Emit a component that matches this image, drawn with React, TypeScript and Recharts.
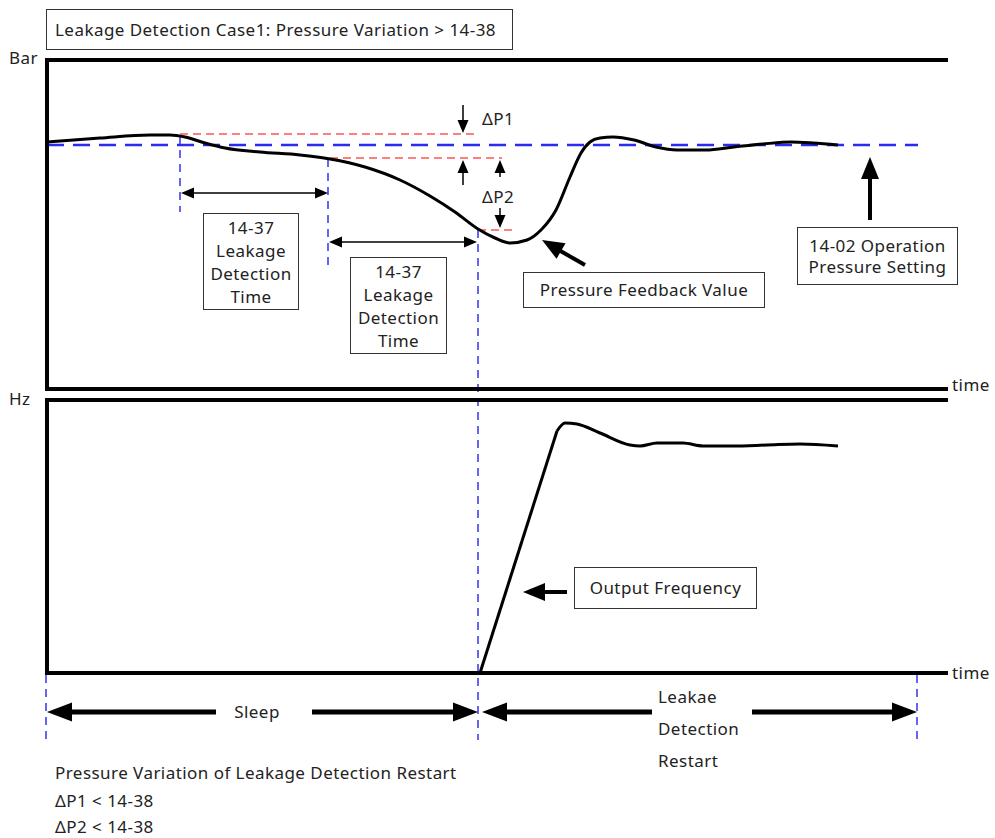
import React from "react";
import { ComposedChart, XAxis, YAxis, Line, Scatter, ReferenceLine } from "recharts";

const W = 995;
const H = 838;

type Pt = { x: number; y: number };
type Seg = { x1: number; y1: number; x2: number; y2: number };
type Head = { x: number; y: number; angle: number };

// pressure feedback (top panel)
const pressureCurve: Pt[] = [
  { x: 47, y: 142 }, { x: 100, y: 138 }, { x: 150, y: 135 }, { x: 170, y: 135 },
  { x: 185, y: 137 }, { x: 205, y: 143 }, { x: 225, y: 148 }, { x: 260, y: 152 },
  { x: 300, y: 155 }, { x: 330, y: 159 }, { x: 365, y: 167 }, { x: 400, y: 180 },
  { x: 430, y: 196 }, { x: 455, y: 212 }, { x: 478, y: 229 }, { x: 495, y: 238 },
  { x: 510, y: 243 }, { x: 527, y: 240 }, { x: 541, y: 230 }, { x: 556, y: 210 },
  { x: 570, y: 177 }, { x: 581, y: 153 }, { x: 590, y: 142 }, { x: 600, y: 138 },
  { x: 613, y: 137 }, { x: 634, y: 140 }, { x: 656, y: 147 }, { x: 677, y: 150 },
  { x: 706, y: 150 }, { x: 734, y: 147 }, { x: 763, y: 144 }, { x: 791, y: 142 },
  { x: 813, y: 143 }, { x: 838, y: 145 },
];

// output frequency (bottom panel): straight ramp, then settling
const frequencyRamp: Pt[] = [{ x: 480, y: 673 }, { x: 557, y: 431 }];
const frequencyCurve: Pt[] = [
  { x: 557, y: 431 }, { x: 565, y: 423 }, { x: 577, y: 424 }, { x: 600, y: 433 },
  { x: 630, y: 445 }, { x: 640, y: 446 }, { x: 657, y: 443 }, { x: 683, y: 443 },
  { x: 703, y: 446 }, { x: 733, y: 446 }, { x: 767, y: 445 }, { x: 800, y: 444 },
  { x: 838, y: 446 },
];

const axisFrame: Seg[] = [
  { x1: 47, y1: 60, x2: 946, y2: 60 },
  { x1: 47, y1: 60, x2: 47, y2: 389 },
  { x1: 47, y1: 389, x2: 946, y2: 389 },
  { x1: 47, y1: 400, x2: 946, y2: 400 },
  { x1: 47, y1: 400, x2: 47, y2: 673 },
  { x1: 47, y1: 673, x2: 946, y2: 673 },
];

const setpointLine: Seg[] = [{ x1: 47, y1: 145, x2: 918, y2: 145 }];

const markerLines: Seg[] = [
  { x1: 180, y1: 136, x2: 180, y2: 212 },
  { x1: 328, y1: 159, x2: 328, y2: 265 },
  { x1: 478, y1: 230, x2: 478, y2: 740 },
  { x1: 46, y1: 675, x2: 46, y2: 740 },
  { x1: 917, y1: 675, x2: 917, y2: 740 },
];

const deltaLines: Seg[] = [
  { x1: 180, y1: 134, x2: 477, y2: 134 },
  { x1: 330, y1: 158, x2: 502, y2: 158 },
  { x1: 478, y1: 230, x2: 513, y2: 230 },
];

const thinShafts: Seg[] = [
  { x1: 463, y1: 105, x2: 463, y2: 124 },
  { x1: 463, y1: 185, x2: 463, y2: 169 },
  { x1: 500, y1: 177, x2: 500, y2: 169 },
  { x1: 500, y1: 208, x2: 500, y2: 219 },
  { x1: 188, y1: 193, x2: 322, y2: 193 },
  { x1: 336, y1: 242, x2: 471, y2: 242 },
];

const thinHeads: Head[] = [
  { x: 463, y: 133, angle: 90 },
  { x: 463, y: 160, angle: -90 },
  { x: 500, y: 160, angle: -90 },
  { x: 500, y: 228, angle: 90 },
  { x: 181, y: 193, angle: 180 },
  { x: 328, y: 193, angle: 0 },
  { x: 329, y: 242, angle: 180 },
  { x: 477, y: 242, angle: 0 },
];

const boldShafts: Seg[] = [
  { x1: 585, y1: 265, x2: 557, y2: 249 },
  { x1: 870, y1: 220, x2: 870, y2: 176 },
  { x1: 567, y1: 592, x2: 544, y2: 592 },
];

const boldHeads: Head[] = [
  { x: 542, y: 240, angle: 210 },
  { x: 870, y: 157, angle: -90 },
  { x: 523, y: 592, angle: 180 },
];

const rangeShafts: Seg[] = [
  { x1: 70, y1: 712, x2: 216, y2: 712 },
  { x1: 312, y1: 712, x2: 457, y2: 712 },
  { x1: 505, y1: 712, x2: 652, y2: 712 },
  { x1: 752, y1: 712, x2: 895, y2: 712 },
];

const rangeHeads: Head[] = [
  { x: 47, y: 712, angle: 180 },
  { x: 478, y: 712, angle: 0 },
  { x: 482, y: 712, angle: 180 },
  { x: 917, y: 712, angle: 0 },
];

function headShape(len: number, half: number) {
  return (props: any) => {
    const { cx, cy, payload } = props;
    const a = (payload.angle * Math.PI) / 180;
    const c = Math.cos(a);
    const s = Math.sin(a);
    const bx = cx - len * c;
    const by = cy - len * s;
    const pts = `${cx},${cy} ${bx - half * s},${by + half * c} ${bx + half * s},${by - half * c}`;
    return <polygon points={pts} fill="#000" />;
  };
}

function segLines(list: Seg[], key: string, style: any) {
  return list.map((s, i) => (
    <ReferenceLine
      key={`${key}${i}`}
      segment={[{ x: s.x1, y: s.y1 }, { x: s.x2, y: s.y2 }]}
      ifOverflow="visible"
      {...style}
    />
  ));
}

const Box = ({ l, t, r, b, lh = 22, children }: any) => (
  <div
    style={{
      position: "absolute", left: l, top: t, width: r - l, height: b - t,
      boxSizing: "border-box", border: "1px solid #333", background: "#fff",
      display: "flex", flexDirection: "column", alignItems: "center",
      justifyContent: "center", lineHeight: `${lh}px`, textAlign: "center",
      whiteSpace: "nowrap",
    }}
  >
    {children}
  </div>
);

const Tag = ({ x, y, center, children }: any) => (
  <div
    style={{
      position: "absolute", left: x, top: y - 12, lineHeight: "24px",
      whiteSpace: "nowrap", transform: center ? "translateX(-50%)" : undefined,
    }}
  >
    {children}
  </div>
);

export default function App() {
  return (
    <div
      style={{
        position: "absolute", left: 0, top: 0, width: W, height: H,
        background: "#fff", fontFamily: '"Noto Sans", sans-serif', fontSize: 17,
        letterSpacing: "0.45px", color: "#222",
      }}
    >
      <ComposedChart width={W} height={H} margin={{ top: 0, right: 0, bottom: 0, left: 0 }}>
        <XAxis type="number" dataKey="x" domain={[0, W]} allowDataOverflow hide />
        <YAxis type="number" dataKey="y" domain={[0, H]} reversed allowDataOverflow hide />

        {segLines(setpointLine, "sp", { stroke: "#2b2bf0", strokeWidth: 2.5, strokeDasharray: "17 9" })}
        {segLines(deltaLines, "dl", { stroke: "#ff5555", strokeWidth: 1.5, strokeDasharray: "8 5" })}
        {segLines(markerLines, "mk", { stroke: "#3333ee", strokeWidth: 1.5, strokeDasharray: "8 6" })}
        {segLines(axisFrame, "ax", { stroke: "#000", strokeWidth: 4, strokeLinecap: "square" })}
        {segLines(thinShafts, "ts", { stroke: "#000", strokeWidth: 1.5 })}
        {segLines(boldShafts, "bs", { stroke: "#000", strokeWidth: 4 })}
        {segLines(rangeShafts, "rs", { stroke: "#000", strokeWidth: 5 })}

        <Line
          data={pressureCurve} dataKey="y" type="monotone" stroke="#000" strokeWidth={3}
          dot={false} activeDot={false} isAnimationActive={false}
        />
        <Line
          data={frequencyRamp} dataKey="y" type="linear" stroke="#000" strokeWidth={3}
          dot={false} activeDot={false} isAnimationActive={false}
        />
        <Line
          data={frequencyCurve} dataKey="y" type="monotone" stroke="#000" strokeWidth={3}
          dot={false} activeDot={false} isAnimationActive={false}
        />

        <Scatter data={thinHeads} shape={headShape(13, 5.5)} isAnimationActive={false} />
        <Scatter data={boldHeads} shape={headShape(22, 9)} isAnimationActive={false} />
        <Scatter data={rangeHeads} shape={headShape(25, 9.5)} isAnimationActive={false} />
      </ComposedChart>

      <div
        style={{
          position: "absolute", left: 46, top: 9, width: 467, height: 41, boxSizing: "border-box",
          border: "1px solid #333", lineHeight: "39px", paddingLeft: 8, whiteSpace: "nowrap",
        }}
      >
        Leakage Detection Case1: Pressure Variation &gt; 14-38
      </div>

      <Tag x={9} y={58}>Bar</Tag>
      <Tag x={9} y={399}>Hz</Tag>
      <Tag x={952} y={385}>time</Tag>
      <Tag x={952} y={673}>time</Tag>
      <Tag x={482} y={119}>ΔP1</Tag>
      <Tag x={482} y={197}>ΔP2</Tag>

      <Box l={203} t={213} r={299} b={310} lh={23}>
        <div>14-37</div><div>Leakage</div><div>Detection</div><div>Time</div>
      </Box>
      <Box l={350} t={257} r={447} b={354} lh={23}>
        <div>14-37</div><div>Leakage</div><div>Detection</div><div>Time</div>
      </Box>
      <Box l={523} t={272} r={765} b={308}>
        <div>Pressure Feedback Value</div>
      </Box>
      <Box l={797} t={227} r={958} b={285} lh={21}>
        <div>14-02 Operation</div><div>Pressure Setting</div>
      </Box>
      <Box l={574} t={567} r={757} b={609}>
        <div>Output Frequency</div>
      </Box>

      <Tag x={257} y={712} center>Sleep</Tag>
      <Tag x={658} y={697}>Leakae</Tag>
      <Tag x={658} y={729}>Detection</Tag>
      <Tag x={658} y={761}>Restart</Tag>

      <Tag x={55} y={773}>Pressure Variation of Leakage Detection Restart</Tag>
      <Tag x={55} y={801}>ΔP1 &lt; 14-38</Tag>
      <Tag x={55} y={827}>ΔP2 &lt; 14-38</Tag>
    </div>
  );
}
